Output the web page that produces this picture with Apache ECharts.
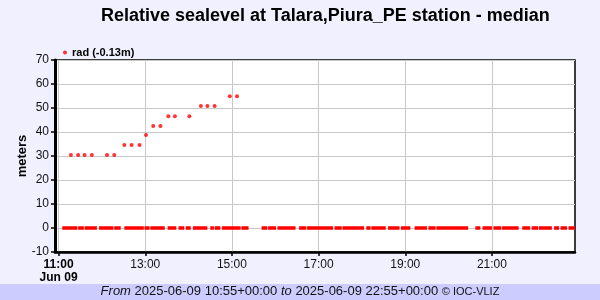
<!DOCTYPE html>
<html>
<head>
<meta charset="utf-8">
<script src="https://cdn.jsdelivr.net/npm/echarts@6/dist/echarts.min.js"></script>
<style>html,body{margin:0;padding:0;background:#f0f0ff;}#c{width:600px;height:300px;}</style>
</head>
<body>
<div id="c"></div>
<script>
// ---- data ----
var titleText = 'Relative sealevel at Talara,Piura_PE station - median';
var seriesName = 'rad (-0.13m)';
var xStart = '10:55', xEnd = '22:55';
var xTickTimes = ['11:00', '13:00', '15:00', '17:00', '19:00', '21:00'];
var yMin = -10, yMax = 70, yStep = 10;
// spiky (non-zero) readings
var spikeTimes = ['11:17','11:27','11:36','11:46','12:07','12:17','12:31','12:41','12:52','13:01',
                  '13:11','13:21','13:32','13:41','14:01','14:17','14:26','14:36','14:57','15:07'];
var spikeValues = [30.4,30.4,30.4,30.4,30.4,30.4,34.6,34.6,34.6,38.7,
                   42.5,42.5,46.6,46.6,46.6,50.8,50.8,50.8,54.9,54.9];
// runs of consecutive readings at 0 m (start, end)
var zeroRunStarts = ['11:05','11:27','11:36','11:56','12:17','12:31','12:59','13:07','13:31','13:46',
                     '13:56','14:06','14:30','14:36','14:46','15:13','15:41','15:50','16:03','16:33',
                     '16:44','17:22','17:33','18:06','18:13','18:36','18:54','19:13','19:32','19:43',
                     '20:37','20:47','21:02','21:14','21:42','21:55','22:05','22:26','22:35','22:46'];
var zeroRunEnds   = ['11:26','11:35','11:53','12:16','12:26','12:58','13:06','13:27','13:43','13:54',
                     '14:03','14:26','14:35','14:44','15:12','15:23','15:49','16:01','16:28','16:43',
                     '17:20','17:32','18:03','18:12','18:33','18:52','19:07','19:30','19:42','20:27',
                     '20:44','21:00','21:13','21:37','21:53','22:04','22:23','22:33','22:44','22:55'];
var footerFrom = '2025-06-09 10:55+00:00', footerTo = '2025-06-09 22:55+00:00';

function toMin(s){ var p = s.split(':'); return (+p[0]) * 60 + (+p[1]); }
function fmt(m){ var h = Math.floor(m/60), mm = Math.round(m - h*60); return (h<10?'0':'')+h+':'+(mm<10?'0':'')+mm; }

var spikeData = spikeTimes.map(function(t,i){ return [toMin(t), spikeValues[i]]; });
var zeroData = [];
zeroRunStarts.forEach(function(s,i){
  zeroData.push([toMin(s), 0]);
  zeroData.push([toMin(zeroRunEnds[i]), 0]);
  zeroData.push([toMin(zeroRunEnds[i]), null]);
});
var tickVals = xTickTimes.map(toMin);

var chart = echarts.init(document.getElementById('c'), null, {renderer:'canvas'});
var FONT = '"Liberation Sans", Arial, sans-serif';
chart.setOption({
  backgroundColor: '#f0f0ff',
  animation: false,
  textStyle: {fontFamily: FONT},
  title: {
    text: titleText, left: 96, top: 2,
    textStyle: {fontFamily: FONT, fontSize: 18, fontWeight: 'bold', color: '#000'}
  },
  legend: {
    data: [seriesName], left: 58, top: 42, icon: 'circle', itemWidth: 4, itemHeight: 4, itemGap: 5,
    textStyle: {fontFamily: FONT, fontSize: 11, fontWeight: 'bold', color: '#000'}
  },
  grid: {
    left: 55, right: 25, top: 60, bottom: 48,
    show: true, backgroundColor: '#fff', borderColor: '#000', borderWidth: 1.5
  },
  xAxis: {
    type: 'value', min: toMin(xStart), max: toMin(xEnd),
    axisLine: {show: true, onZero: false, lineStyle: {color: '#000', width: 2.5}},
    axisTick: {show: true, customValues: tickVals, length: 4, lineStyle: {color: '#000', width: 1.5}},
    splitLine: {show: true, lineStyle: {color: '#c8c8c8', width: 1}},
    axisLabel: {
      customValues: tickVals, margin: 6, color: '#111', fontSize: 12, fontFamily: FONT, lineHeight: 13,
      formatter: function(v){ return v === tickVals[0] ? '{b|' + fmt(v) + '}\n{b|Jun 09}' : fmt(v); },
      rich: {b: {fontWeight: 'bold', fontSize: 12, color: '#000', fontFamily: FONT, lineHeight: 13}}
    }
  },
  yAxis: {
    type: 'value', min: yMin, max: yMax, interval: yStep,
    name: 'meters', nameLocation: 'middle', nameGap: 26, nameRotate: 90, nameMoveOverlap: false,
    nameTextStyle: {fontFamily: FONT, fontSize: 13, fontWeight: 'bold', color: '#000'},
    axisLine: {show: true, lineStyle: {color: '#000', width: 3}},
    axisTick: {show: true, length: 4, lineStyle: {color: '#000', width: 1.5}},
    splitLine: {show: true, lineStyle: {color: '#c8c8c8', width: 1}},
    axisLabel: {color: '#111', fontSize: 12, fontFamily: FONT, margin: 6}
  },
  series: [
    {
      name: 'zero', type: 'line', data: zeroData, showSymbol: false, symbol: 'none',
      connectNulls: false, lineStyle: {color: '#ff0000', width: 3.5, cap: 'butt'}, silent: true
    },
    {
      name: seriesName, type: 'scatter', data: spikeData, symbol: 'circle', symbolSize: 4,
      itemStyle: {color: '#ff0000'}
    }
  ],
  graphic: [
    {type: 'rect', left: 0, top: 284, shape: {width: 600, height: 16}, style: {fill: '#ccccff'}, z: 0},
    {
      type: 'text', left: 'center', top: 285, z: 10,
      style: {
        text: '{i|From} ' + footerFrom + ' {i|to} ' + footerTo + ' {s|© IOC-VLIZ}',
        font: '13px ' + FONT, fill: '#111',
        rich: {
          i: {fontStyle: 'italic', fontSize: 13, fontFamily: FONT, fill: '#111'},
          s: {fontSize: 11, fontFamily: FONT, fill: '#111'}
        }
      }
    }
  ]
});
</script>
</body>
</html>
